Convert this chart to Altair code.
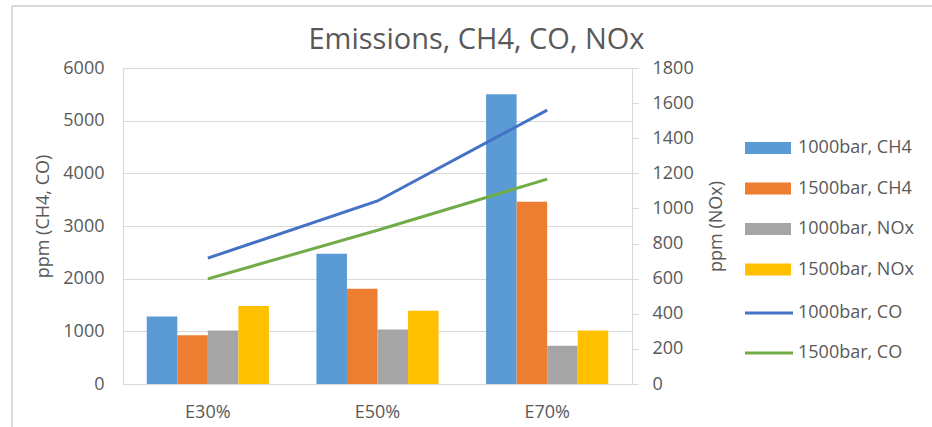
import altair as alt
import pandas as pd

# Emission measurements per ethanol blend
groups = ["E30%", "E50%", "E70%"]
bar_series = ["1000bar, CH4", "1500bar, CH4", "1000bar, NOx", "1500bar, NOx"]
line_series = ["1000bar, CO", "1500bar, CO"]

ch4_1000 = [1280, 2475, 5500]
ch4_1500 = [925, 1810, 3460]
nox_1000 = [305, 310, 218]
nox_1500 = [445, 417, 305]
co_1000 = [2390, 3475, 5200]
co_1500 = [1995, 2920, 3890]

left_ticks = [0, 1000, 2000, 3000, 4000, 5000, 6000]
right_ticks = [0, 200, 400, 600, 800, 1000, 1200, 1400, 1600, 1800]

bar_colors = ["#5B9BD5", "#ED7D31", "#A5A5A5", "#FFC000"]
line_colors = ["#4472C4", "#70AD47"]

FONT = "Open Sans"
TEXT = "#595959"
GRID = "#D9D9D9"


def long_table(series_names, columns):
    rows = []
    for name, vals in zip(series_names, columns):
        for g, v in zip(groups, vals):
            rows.append({"group": g, "series": name, "value": v})
    return pd.DataFrame(rows)


ch4_df = long_table(bar_series[:2], [ch4_1000, ch4_1500])
nox_df = long_table(bar_series[2:], [nox_1000, nox_1500])
co_df = long_table(line_series, [co_1000, co_1500])

x_enc = alt.X(
    "group:N",
    sort=groups,
    scale=alt.Scale(domain=groups, paddingInner=0.28, paddingOuter=0.14),
    axis=alt.Axis(
        title=None, labelAngle=0, ticks=False, labelPadding=19,
        domainColor=GRID, domainWidth=1, labelFontSize=18,
        labelColor=TEXT, labelFont=FONT,
    ),
)
x_off = alt.XOffset(
    "series:N",
    sort=bar_series,
    scale=alt.Scale(domain=bar_series, paddingInner=0, paddingOuter=0),
)
bar_fill = alt.Fill(
    "series:N",
    scale=alt.Scale(domain=bar_series, range=bar_colors),
    legend=alt.Legend(
        title=None, orient="none", legendX=633.5, legendY=68.5, padding=0,
        symbolType="M-2,-0.52H2V0.52H-2Z", symbolSize=529,
        symbolStrokeWidth=0, symbolOffset=0, labelOffset=18.5,
        rowPadding=19.5, labelFontSize=18, labelFont=FONT, labelColor=TEXT,
        labelLimit=200,
    ),
)
line_stroke = alt.Stroke(
    "series:N",
    scale=alt.Scale(domain=line_series, range=line_colors),
    legend=alt.Legend(
        title=None, orient="none", legendX=632.5, legendY=231.5, padding=0,
        symbolType="M-2,0H2", symbolSize=576, symbolStrokeWidth=3,
        labelOffset=15.5, rowPadding=17, labelFontSize=18, labelFont=FONT,
        labelColor=TEXT, labelLimit=200,
    ),
)

left_axis = alt.Axis(
    title="ppm (CH4, CO)", orient="left", values=left_ticks, format="d",
    ticks=False, grid=True, gridColor=GRID, domainColor=GRID, labelPadding=19,
    labelFontSize=18, labelColor=TEXT, labelFont=FONT,
    titleFontSize=18, titleColor=TEXT, titleFont=FONT, titleFontWeight="normal",
    titlePadding=10, titleY=148,
)
left_scale = alt.Scale(domain=[0, 6000], nice=False)

ch4_bars = alt.Chart(ch4_df).mark_bar().encode(
    x=x_enc,
    xOffset=x_off,
    y=alt.Y("value:Q", scale=left_scale, axis=left_axis),
    fill=bar_fill,
)

co_lines = alt.Chart(co_df).mark_line(strokeWidth=3).encode(
    x=x_enc,
    y=alt.Y("value:Q", scale=left_scale, axis=left_axis),
    stroke=line_stroke,
)

nox_bars = alt.Chart(nox_df).mark_bar().encode(
    x=x_enc,
    xOffset=x_off,
    y=alt.Y(
        "value:Q",
        scale=alt.Scale(domain=[0, 1800], nice=False),
        axis=alt.Axis(
            title="ppm (NOx)", orient="right", values=right_ticks, format="d",
            grid=False, ticks=True, tickSize=6, tickColor=GRID,
            domainColor=GRID, labelPadding=14, labelFontSize=18,
            labelColor=TEXT, labelFont=FONT,
            titleFontSize=18, titleColor=TEXT, titleFont=FONT,
            titleFontWeight="normal", titleAngle=270, titleBaseline="top",
            titlePadding=14,
        ),
    ),
    fill=bar_fill,
)

# light frame around the chart area
frame_df = pd.DataFrame({"edge": ["left", "top"]})
frame = alt.layer(
    alt.Chart(frame_df).transform_filter("datum.edge == 'left'").mark_rule(
        color=GRID, strokeWidth=2
    ).encode(x=alt.value(-111), y=alt.value(-62), y2=alt.value(359)),
    alt.Chart(frame_df).transform_filter("datum.edge == 'top'").mark_rule(
        color=GRID, strokeWidth=2
    ).encode(x=alt.value(-111), x2=alt.value(809), y=alt.value(-62)),
)

chart = (
    alt.layer(
        alt.layer(ch4_bars, co_lines),
        nox_bars,
        frame,
    )
    .resolve_scale(y="independent")
    .properties(
        width=509,
        height=316,
        autosize=alt.AutoSizeParams(type="none"),
        padding={"left": 123, "top": 68, "right": 300, "bottom": 43},
        title=alt.TitleParams(
            "Emissions, CH4, CO, NOx", fontSize=29, font=FONT, color=TEXT,
            fontWeight="normal", anchor="middle", frame="group",
            baseline="alphabetic", offset=-73, dx=99,
        ),
    )
    .configure_view(stroke=None)
    .configure(background="white")
)

chart.save("out.html", embed_options={"renderer": "svg", "actions": False})
